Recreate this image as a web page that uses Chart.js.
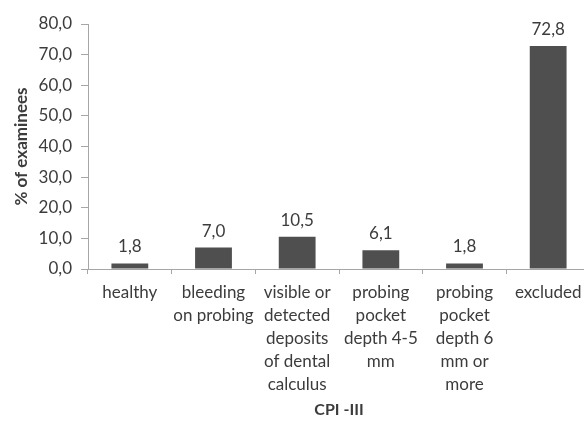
<!DOCTYPE html>
<html>
<head>
<meta charset="utf-8">
<script src="https://cdn.jsdelivr.net/npm/chart.js@4/dist/chart.umd.min.js"></script>
<style>
  html, body { margin: 0; padding: 0; background: #fff; overflow: hidden; }
  #wrap { width: 600px; height: 421px; position: relative; }
</style>
</head>
<body>
<div id="wrap"><canvas id="c" width="600" height="421"></canvas></div>
<script>
// CPI-III categories (multi-line labels)
const categories = [
  "healthy",
  ["bleeding", "on probing"],
  ["visible or", "detected", "deposits", "of dental", "calculus"],
  ["probing", "pocket", "depth 4-5", "mm"],
  ["probing", "pocket", "depth 6", "mm or", "more"],
  "excluded"
];
// share of examinees, %
const percentExaminees = [1.8, 7.0, 10.5, 6.1, 1.8, 72.8];
const yTicks = [0, 10, 20, 30, 40, 50, 60, 70, 80];

const FONT = "Lato, 'Open Sans', sans-serif";
const TEXT = "#3c3c3c";
const AXIS = "#a6a6a6";

const fmt = v => v.toFixed(1).replace(".", ",");

// writes each bar's value above it
const valueLabels = {
  id: "valueLabels",
  afterDatasetsDraw(chart) {
    const ctx = chart.ctx;
    const meta = chart.getDatasetMeta(0);
    ctx.save();
    ctx.font = "17px " + FONT;
    ctx.fillStyle = TEXT;
    ctx.textAlign = "center";
    ctx.textBaseline = "bottom";
    meta.data.forEach((bar, i) => {
      ctx.fillText(fmt(chart.data.datasets[0].data[i]), bar.x, bar.y - 8);
    });
    ctx.restore();
  }
};

new Chart(document.getElementById("c"), {
  type: "bar",
  data: {
    labels: categories,
    datasets: [{
      data: percentExaminees,
      backgroundColor: "#4f4f4f",
      borderWidth: 0,
      barPercentage: 0.44,
      categoryPercentage: 1.0
    }]
  },
  options: {
    responsive: false,
    animation: false,
    devicePixelRatio: 1,
    layout: { padding: { left: 0, top: 24, right: 10, bottom: 0 } },
    plugins: { legend: { display: false }, tooltip: { enabled: false } },
    scales: {
      x: {
        offset: true,
        grid: { display: true, drawOnChartArea: false, drawTicks: true, tickLength: 5, color: AXIS, offset: true },
        border: { display: true, color: AXIS, width: 1 },
        ticks: { color: TEXT, font: { family: FONT, size: 17, lineHeight: 1.35 }, padding: 7, maxRotation: 0, autoSkip: false },
        title: { display: true, text: "CPI -III", color: TEXT, font: { family: FONT, size: 16, weight: "bold" }, padding: { top: 0, bottom: 2 } },
        afterFit(scale) { scale.height = 152; }
      },
      y: {
        min: 0, max: 80,
        afterBuildTicks(scale) { scale.ticks = yTicks.map(v => ({ value: v })); },
        grid: { display: true, drawOnChartArea: false, drawTicks: true, tickLength: 7, color: AXIS },
        border: { display: true, color: AXIS, width: 1 },
        ticks: { color: TEXT, font: { family: FONT, size: 17 }, padding: 9, callback: v => fmt(v) },
        title: { display: true, text: "% of examinees", color: TEXT, font: { family: FONT, size: 17, weight: "bold" }, padding: { top: 11, bottom: 0 } },
        afterFit(scale) { scale.width = 88; }
      }
    }
  },
  plugins: [valueLabels]
});
</script>
</body>
</html>
